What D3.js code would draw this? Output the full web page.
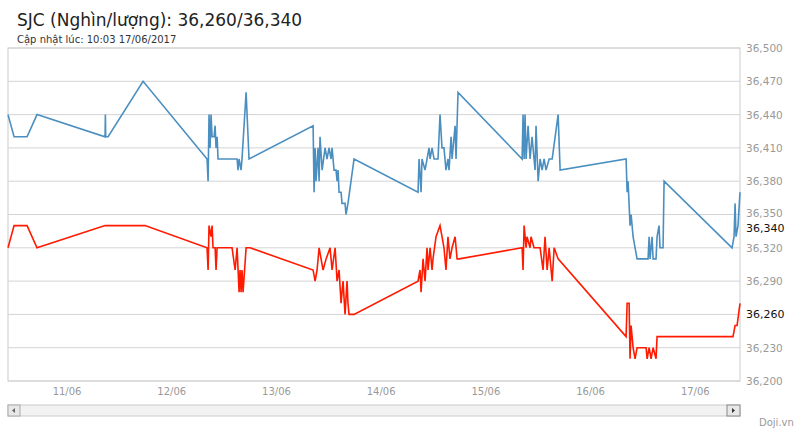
<!DOCTYPE html>
<html><head><meta charset="utf-8">
<script src="https://cdn.jsdelivr.net/npm/d3@7"></script>
<style>body{margin:0;background:#fff;font-family:"Lucida Grande","DejaVu Sans",sans-serif}</style>
</head><body><svg id="c" width="800" height="430"></svg>
<script>
const title = "SJC (Nghìn/lượng): 36,260/36,340";
const subtitle = "Cập nhật lúc: 10:03 17/06/2017";
const dayTicks = [11,12,13,14,15,16,17];
const dayLabels = ["11/06","12/06","13/06","14/06","15/06","16/06","17/06"];
const yTicks = [36200,36230,36260,36290,36320,36350,36380,36410,36440,36470,36500];
const lastValues = [36340, 36260];
// [day (fraction), price]
const sellSeries = [[10.436,36440],[10.494,36420],[10.618,36420],[10.713,36440],[11.363,36420],[11.366,36440],[11.369,36420],[11.392,36420],[11.726,36470],[12.337,36400],[12.347,36380],[12.356,36440],[12.366,36410],[12.375,36440],[12.385,36420],[12.404,36420],[12.414,36430],[12.423,36410],[12.433,36420],[12.442,36400],[12.624,36400],[12.633,36390],[12.643,36400],[12.662,36390],[12.671,36400],[12.710,36460],[12.738,36400],[13.350,36430],[13.359,36370],[13.369,36410],[13.378,36380],[13.397,36410],[13.407,36380],[13.416,36420],[13.436,36390],[13.464,36410],[13.483,36400],[13.502,36410],[13.521,36400],[13.531,36410],[13.550,36390],[13.569,36390],[13.579,36380],[13.588,36390],[13.598,36370],[13.617,36370],[13.626,36360],[13.655,36360],[13.664,36350],[13.683,36360],[13.741,36400],[14.352,36370],[14.362,36400],[14.381,36370],[14.390,36400],[14.419,36390],[14.438,36400],[14.457,36410],[14.467,36400],[14.486,36410],[14.505,36400],[14.543,36400],[14.562,36440],[14.581,36410],[14.600,36410],[14.619,36390],[14.638,36400],[14.648,36390],[14.668,36420],[14.677,36400],[14.706,36430],[14.715,36400],[14.734,36460],[15.346,36400],[15.355,36440],[15.365,36400],[15.374,36440],[15.384,36400],[15.403,36430],[15.422,36400],[15.441,36420],[15.460,36400],[15.470,36390],[15.479,36430],[15.499,36380],[15.518,36400],[15.537,36390],[15.556,36400],[15.575,36390],[15.604,36400],[15.633,36400],[15.690,36440],[15.709,36390],[16.339,36400],[16.349,36370],[16.358,36380],[16.377,36340],[16.387,36350],[16.406,36330],[16.425,36320],[16.444,36310],[16.549,36310],[16.559,36330],[16.568,36310],[16.587,36330],[16.597,36310],[16.625,36310],[16.635,36330],[16.654,36340],[16.663,36320],[16.692,36320],[16.702,36380],[17.351,36320],[17.370,36330],[17.380,36360],[17.389,36330],[17.408,36340],[17.427,36370]];
const buySeries = [[10.436,36320],[10.494,36340],[10.618,36340],[10.713,36320],[11.363,36340],[11.745,36340],[12.337,36320],[12.347,36300],[12.356,36340],[12.375,36330],[12.385,36340],[12.394,36320],[12.414,36320],[12.423,36300],[12.433,36320],[12.576,36320],[12.605,36300],[12.624,36320],[12.643,36280],[12.652,36300],[12.662,36280],[12.671,36300],[12.681,36280],[12.710,36320],[12.748,36320],[13.350,36300],[13.369,36290],[13.388,36300],[13.407,36320],[13.445,36300],[13.474,36310],[13.512,36320],[13.531,36300],[13.560,36320],[13.579,36290],[13.598,36300],[13.617,36270],[13.636,36290],[13.655,36260],[13.674,36290],[13.683,36270],[13.693,36260],[13.741,36260],[14.352,36290],[14.371,36300],[14.381,36280],[14.400,36310],[14.419,36290],[14.438,36320],[14.448,36300],[14.467,36320],[14.486,36300],[14.495,36310],[14.524,36330],[14.562,36340],[14.581,36330],[14.600,36320],[14.619,36300],[14.638,36330],[14.657,36310],[14.677,36320],[14.706,36330],[14.725,36310],[14.744,36310],[15.346,36320],[15.355,36300],[15.365,36340],[15.384,36320],[15.393,36330],[15.422,36320],[15.431,36330],[15.460,36320],[15.489,36320],[15.518,36320],[15.546,36300],[15.565,36330],[15.585,36300],[15.604,36320],[15.633,36290],[15.652,36320],[15.690,36310],[16.339,36240],[16.349,36270],[16.368,36270],[16.377,36220],[16.387,36250],[16.406,36230],[16.425,36220],[16.444,36230],[16.530,36230],[16.540,36220],[16.559,36230],[16.578,36220],[16.597,36230],[16.625,36220],[16.635,36240],[16.673,36240],[17.360,36240],[17.380,36250],[17.399,36250],[17.427,36270]];

const svg = d3.select("#c");
const L=8, R=740, T=48, B=381;
const x = d3.scaleLinear().domain([10.436,17.427]).range([L,R]);
const y = d3.scaleLinear().domain([36200,36500]).range([B,T]);
const fmt = d3.format(",");

svg.append("text").attr("x",17).attr("y",26).attr("font-size",17).attr("fill","#222").text(title);
svg.append("text").attr("x",17).attr("y",43).attr("font-size",10).attr("fill","#333").text(subtitle);

svg.append("rect").attr("x",L).attr("y",T).attr("width",R-L).attr("height",B-T).attr("fill","#fff").attr("stroke","#ccc");
svg.append("g").selectAll("line").data(yTicks).join("line")
  .attr("x1",L).attr("x2",R).attr("y1",d=>y(d)).attr("y2",d=>y(d)).attr("stroke","#d4d4d4");
svg.append("g").selectAll("text").data(yTicks.filter(v=>!lastValues.includes(v))).join("text")
  .attr("x",746).attr("y",d=>y(d)+(d===36350?2:4)).attr("font-size",10.5).attr("fill","#999").text(d=>fmt(d));
svg.append("g").selectAll("text").data(lastValues).join("text")
  .attr("x",746).attr("y",d=>y(d)+(d===36340?6:4)).attr("font-size",11).attr("fill","#111").text(d=>fmt(d));
svg.append("g").selectAll("text").data(dayTicks).join("text")
  .attr("x",d=>x(d)).attr("y",395).attr("text-anchor","middle").attr("font-size",10).attr("fill","#999").text((d,i)=>dayLabels[i]);

const line = d3.line().x(d=>x(d[0])).y(d=>y(d[1]));
svg.append("path").datum(sellSeries).attr("d",line).attr("fill","none").attr("stroke","#4a8fc0").attr("stroke-width",1.6);
svg.append("path").datum(buySeries).attr("d",line).attr("fill","none").attr("stroke","#ff1a00").attr("stroke-width",1.6);

// scrollbar
svg.append("rect").attr("x",L).attr("y",405).attr("width",R-L).attr("height",11).attr("fill","#f2f2f2").attr("stroke","#ccc");
svg.append("rect").attr("x",L).attr("y",405).attr("width",12).attr("height",11).attr("fill","#e8e8e8").attr("stroke","#aaa");
svg.append("rect").attr("x",R-13).attr("y",405).attr("width",13).attr("height",11).attr("fill","#e8e8e8").attr("stroke","#888");
svg.append("path").attr("d",`M${L+7},408 L${L+4},410.5 L${L+7},413Z`).attr("fill","#666");
svg.append("path").attr("d",`M${R-8},408 L${R-5},410.5 L${R-8},413Z`).attr("fill","#333");
svg.append("text").attr("x",759).attr("y",426).attr("font-size",10).attr("fill","#999").text("Doji.vn");
</script></body></html>
